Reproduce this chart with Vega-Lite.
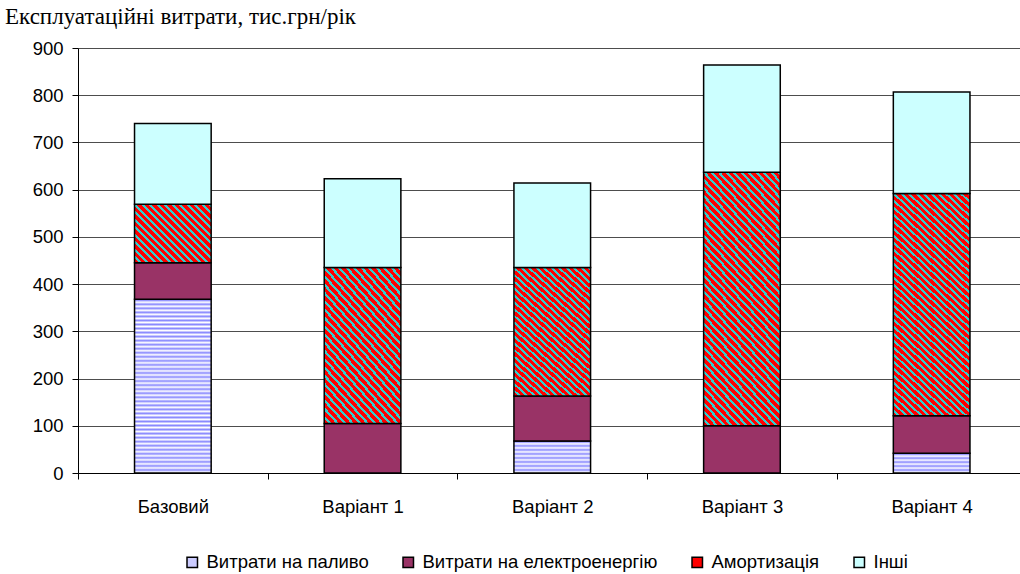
{
  "$schema": "https://vega.github.io/schema/vega-lite/v6.json",
  "width": 942,
  "height": 425,
  "autosize": {"type": "none"},
  "padding": {"left": 78, "top": 48, "right": 0, "bottom": 101},
  "background": "white",
  "title": {"text": "Експлуатаційні витрати, тис.грн/рік", "anchor": "start", "frame": "group", "dx": -73, "offset": 10, "font": "Liberation Serif", "fontSize": 23, "fontWeight": "normal", "color": "#000"},
  "config": {"view": {"stroke": null}},
  "data": {"values": [
    {"c": "Базовий", "s": "Витрати на паливо", "n": 1, "v": 368},
    {"c": "Базовий", "s": "Витрати на електроенергію", "n": 2, "v": 77},
    {"c": "Базовий", "s": "Амортизація", "n": 3, "v": 124},
    {"c": "Базовий", "s": "Інші", "n": 4, "v": 171},
    {"c": "Варіант 1", "s": "Витрати на паливо", "n": 1, "v": 0},
    {"c": "Варіант 1", "s": "Витрати на електроенергію", "n": 2, "v": 105},
    {"c": "Варіант 1", "s": "Амортизація", "n": 3, "v": 330},
    {"c": "Варіант 1", "s": "Інші", "n": 4, "v": 188},
    {"c": "Варіант 2", "s": "Витрати на паливо", "n": 1, "v": 68},
    {"c": "Варіант 2", "s": "Витрати на електроенергію", "n": 2, "v": 95},
    {"c": "Варіант 2", "s": "Амортизація", "n": 3, "v": 272},
    {"c": "Варіант 2", "s": "Інші", "n": 4, "v": 179},
    {"c": "Варіант 3", "s": "Витрати на паливо", "n": 1, "v": 0},
    {"c": "Варіант 3", "s": "Витрати на електроенергію", "n": 2, "v": 100},
    {"c": "Варіант 3", "s": "Амортизація", "n": 3, "v": 537},
    {"c": "Варіант 3", "s": "Інші", "n": 4, "v": 227},
    {"c": "Варіант 4", "s": "Витрати на паливо", "n": 1, "v": 42},
    {"c": "Варіант 4", "s": "Витрати на електроенергію", "n": 2, "v": 79},
    {"c": "Варіант 4", "s": "Амортизація", "n": 3, "v": 471},
    {"c": "Варіант 4", "s": "Інші", "n": 4, "v": 215}
  ]},
  "mark": {"type": "bar", "width": {"band": 0.404}, "stroke": "#000", "strokeWidth": 1.5},
  "encoding": {
    "x": {"field": "c", "type": "nominal", "sort": null,
      "scale": {"type": "band", "range": [0, 948.5], "paddingInner": 0, "paddingOuter": 0},
      "axis": {"title": null, "labelAngle": 0, "labelFont": "Liberation Sans", "labelFontSize": 18.5, "labelColor": "#000", "labelPadding": 18, "tickBand": "extent", "tickSize": 6, "tickColor": "#000", "domainColor": "#000", "grid": false}},
    "y": {"field": "v", "type": "quantitative", "stack": "zero",
      "scale": {"domain": [0, 900], "nice": false},
      "axis": {"title": null, "values": [0, 100, 200, 300, 400, 500, 600, 700, 800, 900], "labelFont": "Liberation Sans", "labelFontSize": 18.5, "labelColor": "#000", "labelPadding": 9, "tickSize": 6, "tickColor": "#000", "domainColor": "#000", "grid": true, "gridColor": "#4d4d4d", "gridOpacity": 1}},
    "order": {"field": "n", "type": "quantitative"},
    "fill": {"field": "s", "type": "nominal",
      "scale": {"domain": ["Витрати на паливо", "Витрати на електроенергію", "Амортизація", "Інші"], "range": ["#ccccff", "#993366", "#ff0000", "#ccffff"]},
      "legend": {"title": null, "orient": "none", "legendX": 105, "legendY": 505, "direction": "horizontal", "symbolType": "square", "symbolSize": 110, "labelFont": "Liberation Sans", "labelFontSize": 18.5, "labelColor": "#000", "labelLimit": 500, "columnPadding": 30, "labelOffset": 5,
        "encode": {"symbols": {
          "stroke": {"value": "#000"},
          "strokeWidth": {"value": 1},
          "fillOpacity": {"value": 1},
          "fill": {"condition": [
            {"test": "datum.label === 'Витрати на паливо' || datum.value === 'Витрати на паливо'", "value": {"gradient": "linear", "x1": 0, "y1": 0, "x2": 0, "y2": 1, "stops": [{"offset": 0, "color": "#fff"}, {"offset": 0.2, "color": "#fff"}, {"offset": 0.2, "color": "#88f"}, {"offset": 0.4, "color": "#88f"}, {"offset": 0.4, "color": "#fff"}, {"offset": 0.6, "color": "#fff"}, {"offset": 0.6, "color": "#88f"}, {"offset": 0.8, "color": "#88f"}, {"offset": 0.8, "color": "#fff"}, {"offset": 1, "color": "#fff"}]}},
            {"test": "datum.label === 'Амортизація' || datum.value === 'Амортизація'", "value": {"gradient": "linear", "x1": 0, "y1": 1, "x2": 1, "y2": 0, "stops": [{"offset": 0, "color": "#f00"}, {"offset": 0.15, "color": "#f00"}, {"offset": 0.15, "color": "#3cc"}, {"offset": 0.3, "color": "#3cc"}, {"offset": 0.3, "color": "#f00"}, {"offset": 0.45, "color": "#f00"}, {"offset": 0.45, "color": "#3cc"}, {"offset": 0.6, "color": "#3cc"}, {"offset": 0.6, "color": "#f00"}, {"offset": 0.75, "color": "#f00"}, {"offset": 0.75, "color": "#3cc"}, {"offset": 0.9, "color": "#3cc"}, {"offset": 0.9, "color": "#f00"}, {"offset": 1, "color": "#f00"}]}},
            {"test": "datum.label === 'Витрати на електроенергію' || datum.value === 'Витрати на електроенергію'", "value": "#993366"}
          ], "value": "#ccffff"}
        }}
      },
      "condition": [
        {"test": "datum.s === 'Витрати на паливо' && datum.c === 'Базовий'", "value": {"gradient": "linear", "x1": 0, "y1": 0, "x2": 0, "y2": 1, "stops": [
          {"offset":0.0058,"color":"#88f"},{"offset":0.0174,"color":"#fff"},{"offset":0.0291,"color":"#88f"},{"offset":0.0407,"color":"#fff"},{"offset":0.0523,"color":"#88f"},{"offset":0.064,"color":"#fff"},{"offset":0.0756,"color":"#88f"},{"offset":0.0872,"color":"#fff"},{"offset":0.0988,"color":"#88f"},{"offset":0.1105,"color":"#fff"},{"offset":0.1221,"color":"#88f"},{"offset":0.1337,"color":"#fff"},{"offset":0.1453,"color":"#88f"},{"offset":0.157,"color":"#fff"},{"offset":0.1686,"color":"#88f"},{"offset":0.1802,"color":"#fff"},{"offset":0.1919,"color":"#88f"},{"offset":0.2035,"color":"#fff"},{"offset":0.2151,"color":"#88f"},{"offset":0.2267,"color":"#fff"},{"offset":0.2384,"color":"#88f"},{"offset":0.25,"color":"#fff"},{"offset":0.2616,"color":"#88f"},{"offset":0.2733,"color":"#fff"},{"offset":0.2849,"color":"#88f"},{"offset":0.2965,"color":"#fff"},{"offset":0.3081,"color":"#88f"},{"offset":0.3198,"color":"#fff"},{"offset":0.3314,"color":"#88f"},{"offset":0.343,"color":"#fff"},{"offset":0.3547,"color":"#88f"},{"offset":0.3663,"color":"#fff"},{"offset":0.3779,"color":"#88f"},{"offset":0.3895,"color":"#fff"},{"offset":0.4012,"color":"#88f"},{"offset":0.4128,"color":"#fff"},{"offset":0.4244,"color":"#88f"},{"offset":0.436,"color":"#fff"},{"offset":0.4477,"color":"#88f"},{"offset":0.4593,"color":"#fff"},{"offset":0.4709,"color":"#88f"},{"offset":0.4826,"color":"#fff"},{"offset":0.4942,"color":"#88f"},{"offset":0.5058,"color":"#fff"},{"offset":0.5174,"color":"#88f"},{"offset":0.5291,"color":"#fff"},{"offset":0.5407,"color":"#88f"},{"offset":0.5523,"color":"#fff"},{"offset":0.564,"color":"#88f"},{"offset":0.5756,"color":"#fff"},{"offset":0.5872,"color":"#88f"},{"offset":0.5988,"color":"#fff"},{"offset":0.6105,"color":"#88f"},{"offset":0.6221,"color":"#fff"},{"offset":0.6337,"color":"#88f"},{"offset":0.6453,"color":"#fff"},{"offset":0.657,"color":"#88f"},{"offset":0.6686,"color":"#fff"},{"offset":0.6802,"color":"#88f"},{"offset":0.6919,"color":"#fff"},{"offset":0.7035,"color":"#88f"},{"offset":0.7151,"color":"#fff"},{"offset":0.7267,"color":"#88f"},{"offset":0.7384,"color":"#fff"},{"offset":0.75,"color":"#88f"},{"offset":0.7616,"color":"#fff"},{"offset":0.7733,"color":"#88f"},{"offset":0.7849,"color":"#fff"},{"offset":0.7965,"color":"#88f"},{"offset":0.8081,"color":"#fff"},{"offset":0.8198,"color":"#88f"},{"offset":0.8314,"color":"#fff"},{"offset":0.843,"color":"#88f"},{"offset":0.8547,"color":"#fff"},{"offset":0.8663,"color":"#88f"},{"offset":0.8779,"color":"#fff"},{"offset":0.8895,"color":"#88f"},{"offset":0.9012,"color":"#fff"},{"offset":0.9128,"color":"#88f"},{"offset":0.9244,"color":"#fff"},{"offset":0.936,"color":"#88f"},{"offset":0.9477,"color":"#fff"},{"offset":0.9593,"color":"#88f"},{"offset":0.9709,"color":"#fff"},{"offset":0.9826,"color":"#88f"},{"offset":0.9942,"color":"#fff"}]}},
        {"test": "datum.s === 'Витрати на паливо' && datum.c === 'Варіант 2'", "value": {"gradient": "linear", "x1": 0, "y1": 0, "x2": 0, "y2": 1, "stops": [
          {"offset":0.0313,"color":"#88f"},{"offset":0.0938,"color":"#fff"},{"offset":0.1563,"color":"#88f"},{"offset":0.2188,"color":"#fff"},{"offset":0.2813,"color":"#88f"},{"offset":0.3438,"color":"#fff"},{"offset":0.4063,"color":"#88f"},{"offset":0.4688,"color":"#fff"},{"offset":0.5313,"color":"#88f"},{"offset":0.5938,"color":"#fff"},{"offset":0.6563,"color":"#88f"},{"offset":0.7188,"color":"#fff"},{"offset":0.7813,"color":"#88f"},{"offset":0.8438,"color":"#fff"},{"offset":0.9063,"color":"#88f"},{"offset":0.9688,"color":"#fff"}]}},
        {"test": "datum.s === 'Витрати на паливо' && datum.c === 'Варіант 4'", "value": {"gradient": "linear", "x1": 0, "y1": 0, "x2": 0, "y2": 1, "stops": [
          {"offset":0.05,"color":"#88f"},{"offset":0.15,"color":"#fff"},{"offset":0.25,"color":"#88f"},{"offset":0.35,"color":"#fff"},{"offset":0.45,"color":"#88f"},{"offset":0.55,"color":"#fff"},{"offset":0.65,"color":"#88f"},{"offset":0.75,"color":"#fff"},{"offset":0.85,"color":"#88f"},{"offset":0.95,"color":"#fff"}]}},
        {"test": "datum.s === 'Амортизація' && datum.c === 'Базовий'", "value": {"gradient": "linear", "x1": 0, "y1": 1, "x2": 1.1134, "y2": 0.1482, "stops": [
          {"offset":0,"color":"#f00"},{"offset":0.0333,"color":"#f00"},{"offset":0.0333,"color":"#3cc"},{"offset":0.0556,"color":"#3cc"},
          {"offset":0.0556,"color":"#f00"},{"offset":0.0889,"color":"#f00"},{"offset":0.0889,"color":"#3cc"},{"offset":0.1111,"color":"#3cc"},
          {"offset":0.1111,"color":"#f00"},{"offset":0.1444,"color":"#f00"},{"offset":0.1444,"color":"#3cc"},{"offset":0.1667,"color":"#3cc"},
          {"offset":0.1667,"color":"#f00"},{"offset":0.2,"color":"#f00"},{"offset":0.2,"color":"#3cc"},{"offset":0.2222,"color":"#3cc"},
          {"offset":0.2222,"color":"#f00"},{"offset":0.2556,"color":"#f00"},{"offset":0.2556,"color":"#3cc"},{"offset":0.2778,"color":"#3cc"},
          {"offset":0.2778,"color":"#f00"},{"offset":0.3111,"color":"#f00"},{"offset":0.3111,"color":"#3cc"},{"offset":0.3333,"color":"#3cc"},
          {"offset":0.3333,"color":"#f00"},{"offset":0.3667,"color":"#f00"},{"offset":0.3667,"color":"#3cc"},{"offset":0.3889,"color":"#3cc"},
          {"offset":0.3889,"color":"#f00"},{"offset":0.4222,"color":"#f00"},{"offset":0.4222,"color":"#3cc"},{"offset":0.4444,"color":"#3cc"},
          {"offset":0.4444,"color":"#f00"},{"offset":0.4778,"color":"#f00"},{"offset":0.4778,"color":"#3cc"},{"offset":0.5,"color":"#3cc"},
          {"offset":0.5,"color":"#f00"},{"offset":0.5333,"color":"#f00"},{"offset":0.5333,"color":"#3cc"},{"offset":0.5556,"color":"#3cc"},
          {"offset":0.5556,"color":"#f00"},{"offset":0.5889,"color":"#f00"},{"offset":0.5889,"color":"#3cc"},{"offset":0.6111,"color":"#3cc"},
          {"offset":0.6111,"color":"#f00"},{"offset":0.6444,"color":"#f00"},{"offset":0.6444,"color":"#3cc"},{"offset":0.6667,"color":"#3cc"},
          {"offset":0.6667,"color":"#f00"},{"offset":0.7,"color":"#f00"},{"offset":0.7,"color":"#3cc"},{"offset":0.7222,"color":"#3cc"},
          {"offset":0.7222,"color":"#f00"},{"offset":0.7556,"color":"#f00"},{"offset":0.7556,"color":"#3cc"},{"offset":0.7778,"color":"#3cc"},
          {"offset":0.7778,"color":"#f00"},{"offset":0.8111,"color":"#f00"},{"offset":0.8111,"color":"#3cc"},{"offset":0.8333,"color":"#3cc"},
          {"offset":0.8333,"color":"#f00"},{"offset":0.8667,"color":"#f00"},{"offset":0.8667,"color":"#3cc"},{"offset":0.8889,"color":"#3cc"},
          {"offset":0.8889,"color":"#f00"},{"offset":0.9222,"color":"#f00"},{"offset":0.9222,"color":"#3cc"},{"offset":0.9444,"color":"#3cc"},
          {"offset":0.9444,"color":"#f00"},{"offset":0.9778,"color":"#f00"},{"offset":0.9778,"color":"#3cc"},{"offset":1,"color":"#3cc"}]}},
        {"test": "datum.s === 'Амортизація' && (datum.c === 'Варіант 1' || datum.c === 'Варіант 2')", "value": {"gradient": "linear", "x1": 0, "y1": 1, "x2": 0.646, "y2": -0.189, "stops": [
          {"offset":0,"color":"#f00"},{"offset":0.0207,"color":"#f00"},{"offset":0.0207,"color":"#3cc"},{"offset":0.0345,"color":"#3cc"},
          {"offset":0.0345,"color":"#f00"},{"offset":0.0552,"color":"#f00"},{"offset":0.0552,"color":"#3cc"},{"offset":0.069,"color":"#3cc"},
          {"offset":0.069,"color":"#f00"},{"offset":0.0897,"color":"#f00"},{"offset":0.0897,"color":"#3cc"},{"offset":0.1034,"color":"#3cc"},
          {"offset":0.1034,"color":"#f00"},{"offset":0.1241,"color":"#f00"},{"offset":0.1241,"color":"#3cc"},{"offset":0.1379,"color":"#3cc"},
          {"offset":0.1379,"color":"#f00"},{"offset":0.1586,"color":"#f00"},{"offset":0.1586,"color":"#3cc"},{"offset":0.1724,"color":"#3cc"},
          {"offset":0.1724,"color":"#f00"},{"offset":0.1931,"color":"#f00"},{"offset":0.1931,"color":"#3cc"},{"offset":0.2069,"color":"#3cc"},
          {"offset":0.2069,"color":"#f00"},{"offset":0.2276,"color":"#f00"},{"offset":0.2276,"color":"#3cc"},{"offset":0.2414,"color":"#3cc"},
          {"offset":0.2414,"color":"#f00"},{"offset":0.2621,"color":"#f00"},{"offset":0.2621,"color":"#3cc"},{"offset":0.2759,"color":"#3cc"},
          {"offset":0.2759,"color":"#f00"},{"offset":0.2966,"color":"#f00"},{"offset":0.2966,"color":"#3cc"},{"offset":0.3103,"color":"#3cc"},
          {"offset":0.3103,"color":"#f00"},{"offset":0.331,"color":"#f00"},{"offset":0.331,"color":"#3cc"},{"offset":0.3448,"color":"#3cc"},
          {"offset":0.3448,"color":"#f00"},{"offset":0.3655,"color":"#f00"},{"offset":0.3655,"color":"#3cc"},{"offset":0.3793,"color":"#3cc"},
          {"offset":0.3793,"color":"#f00"},{"offset":0.4,"color":"#f00"},{"offset":0.4,"color":"#3cc"},{"offset":0.4138,"color":"#3cc"},
          {"offset":0.4138,"color":"#f00"},{"offset":0.4345,"color":"#f00"},{"offset":0.4345,"color":"#3cc"},{"offset":0.4483,"color":"#3cc"},
          {"offset":0.4483,"color":"#f00"},{"offset":0.469,"color":"#f00"},{"offset":0.469,"color":"#3cc"},{"offset":0.4828,"color":"#3cc"},
          {"offset":0.4828,"color":"#f00"},{"offset":0.5034,"color":"#f00"},{"offset":0.5034,"color":"#3cc"},{"offset":0.5172,"color":"#3cc"},
          {"offset":0.5172,"color":"#f00"},{"offset":0.5379,"color":"#f00"},{"offset":0.5379,"color":"#3cc"},{"offset":0.5517,"color":"#3cc"},
          {"offset":0.5517,"color":"#f00"},{"offset":0.5724,"color":"#f00"},{"offset":0.5724,"color":"#3cc"},{"offset":0.5862,"color":"#3cc"},
          {"offset":0.5862,"color":"#f00"},{"offset":0.6069,"color":"#f00"},{"offset":0.6069,"color":"#3cc"},{"offset":0.6207,"color":"#3cc"},
          {"offset":0.6207,"color":"#f00"},{"offset":0.6414,"color":"#f00"},{"offset":0.6414,"color":"#3cc"},{"offset":0.6552,"color":"#3cc"},
          {"offset":0.6552,"color":"#f00"},{"offset":0.6759,"color":"#f00"},{"offset":0.6759,"color":"#3cc"},{"offset":0.6897,"color":"#3cc"},
          {"offset":0.6897,"color":"#f00"},{"offset":0.7103,"color":"#f00"},{"offset":0.7103,"color":"#3cc"},{"offset":0.7241,"color":"#3cc"},
          {"offset":0.7241,"color":"#f00"},{"offset":0.7448,"color":"#f00"},{"offset":0.7448,"color":"#3cc"},{"offset":0.7586,"color":"#3cc"},
          {"offset":0.7586,"color":"#f00"},{"offset":0.7793,"color":"#f00"},{"offset":0.7793,"color":"#3cc"},{"offset":0.7931,"color":"#3cc"},
          {"offset":0.7931,"color":"#f00"},{"offset":0.8138,"color":"#f00"},{"offset":0.8138,"color":"#3cc"},{"offset":0.8276,"color":"#3cc"},
          {"offset":0.8276,"color":"#f00"},{"offset":0.8483,"color":"#f00"},{"offset":0.8483,"color":"#3cc"},{"offset":0.8621,"color":"#3cc"},
          {"offset":0.8621,"color":"#f00"},{"offset":0.8828,"color":"#f00"},{"offset":0.8828,"color":"#3cc"},{"offset":0.8966,"color":"#3cc"},
          {"offset":0.8966,"color":"#f00"},{"offset":0.9172,"color":"#f00"},{"offset":0.9172,"color":"#3cc"},{"offset":0.931,"color":"#3cc"},
          {"offset":0.931,"color":"#f00"},{"offset":0.9517,"color":"#f00"},{"offset":0.9517,"color":"#3cc"},{"offset":0.9655,"color":"#3cc"},
          {"offset":0.9655,"color":"#f00"},{"offset":0.9862,"color":"#f00"},{"offset":0.9862,"color":"#3cc"},{"offset":1,"color":"#3cc"}]}},
        {"test": "datum.s === 'Амортизація' && (datum.c === 'Варіант 3' || datum.c === 'Варіант 4')", "value": {"gradient": "linear", "x1": 0, "y1": 1, "x2": 0.387, "y2": -0.197, "stops": [
          {"offset":0,"color":"#f00"},{"offset":0.0143,"color":"#f00"},{"offset":0.0143,"color":"#3cc"},{"offset":0.0238,"color":"#3cc"},
          {"offset":0.0238,"color":"#f00"},{"offset":0.0381,"color":"#f00"},{"offset":0.0381,"color":"#3cc"},{"offset":0.0476,"color":"#3cc"},
          {"offset":0.0476,"color":"#f00"},{"offset":0.0619,"color":"#f00"},{"offset":0.0619,"color":"#3cc"},{"offset":0.0714,"color":"#3cc"},
          {"offset":0.0714,"color":"#f00"},{"offset":0.0857,"color":"#f00"},{"offset":0.0857,"color":"#3cc"},{"offset":0.0952,"color":"#3cc"},
          {"offset":0.0952,"color":"#f00"},{"offset":0.1095,"color":"#f00"},{"offset":0.1095,"color":"#3cc"},{"offset":0.119,"color":"#3cc"},
          {"offset":0.119,"color":"#f00"},{"offset":0.1333,"color":"#f00"},{"offset":0.1333,"color":"#3cc"},{"offset":0.1429,"color":"#3cc"},
          {"offset":0.1429,"color":"#f00"},{"offset":0.1571,"color":"#f00"},{"offset":0.1571,"color":"#3cc"},{"offset":0.1667,"color":"#3cc"},
          {"offset":0.1667,"color":"#f00"},{"offset":0.181,"color":"#f00"},{"offset":0.181,"color":"#3cc"},{"offset":0.1905,"color":"#3cc"},
          {"offset":0.1905,"color":"#f00"},{"offset":0.2048,"color":"#f00"},{"offset":0.2048,"color":"#3cc"},{"offset":0.2143,"color":"#3cc"},
          {"offset":0.2143,"color":"#f00"},{"offset":0.2286,"color":"#f00"},{"offset":0.2286,"color":"#3cc"},{"offset":0.2381,"color":"#3cc"},
          {"offset":0.2381,"color":"#f00"},{"offset":0.2524,"color":"#f00"},{"offset":0.2524,"color":"#3cc"},{"offset":0.2619,"color":"#3cc"},
          {"offset":0.2619,"color":"#f00"},{"offset":0.2762,"color":"#f00"},{"offset":0.2762,"color":"#3cc"},{"offset":0.2857,"color":"#3cc"},
          {"offset":0.2857,"color":"#f00"},{"offset":0.3,"color":"#f00"},{"offset":0.3,"color":"#3cc"},{"offset":0.3095,"color":"#3cc"},
          {"offset":0.3095,"color":"#f00"},{"offset":0.3238,"color":"#f00"},{"offset":0.3238,"color":"#3cc"},{"offset":0.3333,"color":"#3cc"},
          {"offset":0.3333,"color":"#f00"},{"offset":0.3476,"color":"#f00"},{"offset":0.3476,"color":"#3cc"},{"offset":0.3571,"color":"#3cc"},
          {"offset":0.3571,"color":"#f00"},{"offset":0.3714,"color":"#f00"},{"offset":0.3714,"color":"#3cc"},{"offset":0.381,"color":"#3cc"},
          {"offset":0.381,"color":"#f00"},{"offset":0.3952,"color":"#f00"},{"offset":0.3952,"color":"#3cc"},{"offset":0.4048,"color":"#3cc"},
          {"offset":0.4048,"color":"#f00"},{"offset":0.419,"color":"#f00"},{"offset":0.419,"color":"#3cc"},{"offset":0.4286,"color":"#3cc"},
          {"offset":0.4286,"color":"#f00"},{"offset":0.4429,"color":"#f00"},{"offset":0.4429,"color":"#3cc"},{"offset":0.4524,"color":"#3cc"},
          {"offset":0.4524,"color":"#f00"},{"offset":0.4667,"color":"#f00"},{"offset":0.4667,"color":"#3cc"},{"offset":0.4762,"color":"#3cc"},
          {"offset":0.4762,"color":"#f00"},{"offset":0.4905,"color":"#f00"},{"offset":0.4905,"color":"#3cc"},{"offset":0.5,"color":"#3cc"},
          {"offset":0.5,"color":"#f00"},{"offset":0.5143,"color":"#f00"},{"offset":0.5143,"color":"#3cc"},{"offset":0.5238,"color":"#3cc"},
          {"offset":0.5238,"color":"#f00"},{"offset":0.5381,"color":"#f00"},{"offset":0.5381,"color":"#3cc"},{"offset":0.5476,"color":"#3cc"},
          {"offset":0.5476,"color":"#f00"},{"offset":0.5619,"color":"#f00"},{"offset":0.5619,"color":"#3cc"},{"offset":0.5714,"color":"#3cc"},
          {"offset":0.5714,"color":"#f00"},{"offset":0.5857,"color":"#f00"},{"offset":0.5857,"color":"#3cc"},{"offset":0.5952,"color":"#3cc"},
          {"offset":0.5952,"color":"#f00"},{"offset":0.6095,"color":"#f00"},{"offset":0.6095,"color":"#3cc"},{"offset":0.619,"color":"#3cc"},
          {"offset":0.619,"color":"#f00"},{"offset":0.6333,"color":"#f00"},{"offset":0.6333,"color":"#3cc"},{"offset":0.6429,"color":"#3cc"},
          {"offset":0.6429,"color":"#f00"},{"offset":0.6571,"color":"#f00"},{"offset":0.6571,"color":"#3cc"},{"offset":0.6667,"color":"#3cc"},
          {"offset":0.6667,"color":"#f00"},{"offset":0.681,"color":"#f00"},{"offset":0.681,"color":"#3cc"},{"offset":0.6905,"color":"#3cc"},
          {"offset":0.6905,"color":"#f00"},{"offset":0.7048,"color":"#f00"},{"offset":0.7048,"color":"#3cc"},{"offset":0.7143,"color":"#3cc"},
          {"offset":0.7143,"color":"#f00"},{"offset":0.7286,"color":"#f00"},{"offset":0.7286,"color":"#3cc"},{"offset":0.7381,"color":"#3cc"},
          {"offset":0.7381,"color":"#f00"},{"offset":0.7524,"color":"#f00"},{"offset":0.7524,"color":"#3cc"},{"offset":0.7619,"color":"#3cc"},
          {"offset":0.7619,"color":"#f00"},{"offset":0.7762,"color":"#f00"},{"offset":0.7762,"color":"#3cc"},{"offset":0.7857,"color":"#3cc"},
          {"offset":0.7857,"color":"#f00"},{"offset":0.8,"color":"#f00"},{"offset":0.8,"color":"#3cc"},{"offset":0.8095,"color":"#3cc"},
          {"offset":0.8095,"color":"#f00"},{"offset":0.8238,"color":"#f00"},{"offset":0.8238,"color":"#3cc"},{"offset":0.8333,"color":"#3cc"},
          {"offset":0.8333,"color":"#f00"},{"offset":0.8476,"color":"#f00"},{"offset":0.8476,"color":"#3cc"},{"offset":0.8571,"color":"#3cc"},
          {"offset":0.8571,"color":"#f00"},{"offset":0.8714,"color":"#f00"},{"offset":0.8714,"color":"#3cc"},{"offset":0.881,"color":"#3cc"},
          {"offset":0.881,"color":"#f00"},{"offset":0.8952,"color":"#f00"},{"offset":0.8952,"color":"#3cc"},{"offset":0.9048,"color":"#3cc"},
          {"offset":0.9048,"color":"#f00"},{"offset":0.919,"color":"#f00"},{"offset":0.919,"color":"#3cc"},{"offset":0.9286,"color":"#3cc"},
          {"offset":0.9286,"color":"#f00"},{"offset":0.9429,"color":"#f00"},{"offset":0.9429,"color":"#3cc"},{"offset":0.9524,"color":"#3cc"},
          {"offset":0.9524,"color":"#f00"},{"offset":0.9667,"color":"#f00"},{"offset":0.9667,"color":"#3cc"},{"offset":0.9762,"color":"#3cc"},
          {"offset":0.9762,"color":"#f00"},{"offset":0.9905,"color":"#f00"},{"offset":0.9905,"color":"#3cc"},{"offset":1,"color":"#3cc"}]}}
      ]
    }
  }
}
